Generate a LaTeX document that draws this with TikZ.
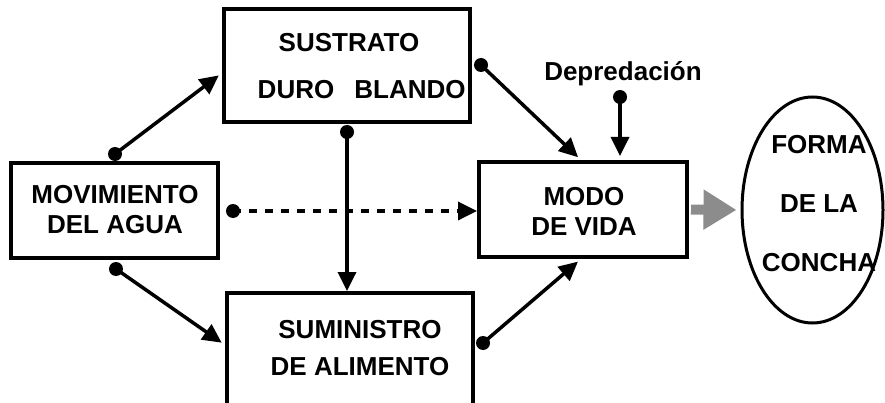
\documentclass[tikz,border=0pt]{standalone}
\usepackage{fontspec}
\setmainfont{Liberation Sans}
\usetikzlibrary{arrows.meta}
\usetikzlibrary{shapes.geometric}
\tikzstyle{box} = [rectangle, draw=black, line width=4pt, inner sep=0pt]
\tikzstyle{txt} = [align=center, inner sep=0pt, font=\fontsize{26pt}{30pt}\selectfont\bfseries]
\tikzstyle{dot} = [circle, fill=black, inner sep=0pt, minimum size=14pt]
\tikzstyle{arrow} = [line width=3.5pt, -{Triangle[length=19pt,width=18pt]}, shorten >=4pt]
\tikzstyle{dasharrow} = [arrow, dash pattern=on 8pt off 8pt, shorten >=0pt]
\tikzstyle{bigarrow} = [line width=10pt, draw=black!45, -{Triangle[length=33pt,width=38pt]}, shorten <=2pt, shorten >=4pt]

\begin{document}
\begin{tikzpicture}[x=1pt, y=-1pt]

  \clip (0,0) rectangle (885,403);

  % boxes
  \node[box, minimum width=207pt, minimum height=95pt] (mov) at (114.5,210.5) {};
  \node[txt] (movT) at (115,210) {MOVIMIENTO\\DEL AGUA};

  \node[box, minimum width=246pt, minimum height=113pt] (sus) at (347,65.5) {};
  \node[txt] (susT) at (349,43) {SUSTRATO};
  \node[txt] (duro) at (296,90) {DURO};
  \node[txt] (blando) at (410,90) {BLANDO};

  \node[box, minimum width=246pt, minimum height=113pt] (sum) at (350,349.5) {};
  \node[txt] (sumT) at (360,348.5) {SUMINISTRO\\[7pt]DE ALIMENTO};

  \node[box, minimum width=208pt, minimum height=95pt] (modo) at (583,209.5) {};
  \node[txt] (modoT) at (584,211) {MODO\\DE VIDA};

  \node[ellipse, draw=black, line width=3pt, inner sep=0pt, minimum width=141pt, minimum height=226pt] (forma) at (812.5,210) {};
  \node[txt] (formaT) at (819,204) {FORMA\\[29pt]DE LA\\[29pt]CONCHA};

  \node[txt] (dep) at (623,74) {Depredación};

  % dots
  \node[dot] (dMovTop) at (115,154) {};
  \node[dot] (dMovBot) at (116,269) {};
  \node[dot] (dMovRight) at (233,211) {};
  \node[dot] (dSusBot) at (347,132) {};
  \node[dot] (dSusRight) at (481,65) {};
  \node[dot] (dDep) at (620,97) {};
  \node[dot] (dSumRight) at (483,343) {};

  % connectors
  \draw[arrow] (dMovTop.center) -- (sus.west |- 0,73);
  \draw[arrow] (dMovBot.center) -- (sum.west |- 0,345);
  \draw[dasharrow] (dMovRight.center) -- (modo.west |- dMovRight);
  \draw[arrow, shorten >=0pt] (dSusBot.center) -- (dSusBot |- sum.north);
  \draw[arrow] (dSusRight.center) -- ([xshift=-2pt]modo.north);
  \draw[arrow] (dDep.center) -- (dDep |- modo.north);
  \draw[arrow] (dSumRight.center) -- ([xshift=-2pt]modo.south);
  \draw[bigarrow] (modo.east) -- (forma.west);

\end{tikzpicture}
\end{document}
